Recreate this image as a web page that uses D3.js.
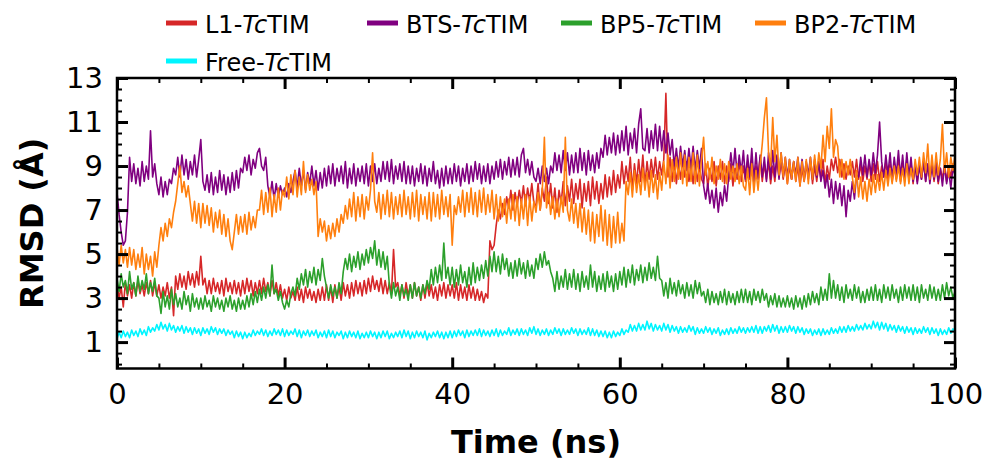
<!DOCTYPE html>
<meta charset="utf-8">
<head>
<style>
body { margin: 0; background: #fff; }
text { font-family: "DejaVu Sans", sans-serif; }
.tick line { stroke: #000; }
</style>
</head>
<body>
<div id="my_dataviz"></div>
<script src="https://d3js.org/d3.v7.min.js"></script>
<script>

// RMSD samples every 0.25 ns (one row = 5 ns)
var step = 0.25;

var l1 = [
  3.6,3.0,3.5,2.6,3.7,3.1,3.6,3.0,3.7,3.1,3.8,3.2,3.6,3.1,3.7,3.2,3.8,3.1,3.7,3.1,
  3.6,3.0,3.5,3.1,3.7,3.0,3.5,2.2,4.0,3.4,4.1,3.5,4.0,3.4,4.2,3.6,4.1,3.5,4.2,3.6,
  4.9,3.6,3.9,3.2,3.8,3.2,3.9,3.3,3.7,3.2,3.8,3.1,3.9,3.3,3.7,3.2,3.8,3.2,3.7,3.1,
  3.8,3.2,3.9,3.3,3.8,3.1,3.7,3.2,3.8,3.2,3.9,3.3,3.7,3.1,3.8,3.2,3.7,3.1,3.6,3.0,
  3.4,2.9,3.5,3.0,3.3,2.9,3.5,2.9,3.4,2.8,3.5,3.0,3.4,2.9,3.3,2.8,3.4,2.9,3.5,2.9,
  3.6,2.9,3.5,2.8,3.6,3.0,3.5,2.9,3.7,3.1,3.6,3.0,3.7,3.1,3.8,3.2,3.7,3.1,3.8,3.2,
  3.9,3.3,4.0,3.4,3.8,3.3,3.9,3.2,3.8,3.2,3.7,3.2,5.2,3.5,3.7,3.1,3.6,3.0,3.7,3.1,
  3.6,3.0,3.7,3.1,3.5,2.9,3.6,3.0,3.7,3.1,3.6,3.0,3.5,2.9,3.6,3.1,3.7,3.0,3.6,3.1,
  3.6,3.0,3.7,2.9,3.6,3.0,3.5,2.9,3.6,3.0,3.5,2.9,3.4,2.9,3.3,2.8,3.2,3.0,5.6,5.2,
  5.4,6.3,7.0,6.6,7.3,6.8,7.6,7.1,7.9,7.0,7.8,7.2,7.9,7.3,8.1,7.2,8.0,7.4,8.2,7.3,
  7.2,8.2,7.0,8.0,7.4,8.5,7.3,8.2,7.1,8.0,6.9,7.9,7.3,8.3,7.2,8.1,7.4,8.4,7.3,8.2,
  7.5,8.4,7.1,8.2,7.4,8.3,7.2,8.5,7.5,8.3,7.3,8.2,7.5,8.6,7.6,8.5,7.7,8.8,7.8,8.6,
  8.0,9.2,8.2,9.0,8.3,9.4,7.9,9.1,8.2,9.3,8.3,9.5,8.1,9.2,8.4,9.3,8.5,9.4,8.4,9.2,
  8.6,9.3,12.3,8.5,9.4,8.3,9.2,8.2,9.1,8.4,9.3,8.5,9.2,8.3,9.0,8.2,9.1,8.3,9.0,8.4,
  8.2,9.1,8.0,8.9,8.3,9.2,8.1,9.0,8.4,9.2,8.2,9.0,8.3,9.1,8.1,8.9,8.4,9.2,8.3,9.0,
  8.3,9.2,8.4,9.3,8.2,9.0,8.5,9.4,8.3,9.1,8.4,9.2,8.2,9.0,8.3,9.3,8.5,9.2,8.4,9.1,
  8.2,9.0,8.4,9.2,8.3,9.0,8.1,8.9,8.3,9.1,8.4,9.2,8.2,9.0,8.3,9.1,8.4,9.3,8.2,9.0,
  8.4,9.3,8.8,9.4,8.7,9.3,8.5,9.1,8.4,9.0,8.6,9.2,8.5,9.3,8.4,9.1,8.3,9.0,8.4,9.2,
  8.3,9.1,8.4,9.2,8.3,9.0,8.5,9.2,8.4,9.1,8.3,9.0,8.4,9.2,8.3,9.1,8.5,9.3,8.4,9.1,
  8.2,9.0,8.3,9.1,8.4,9.2,8.3,9.0,8.5,9.1,8.3,9.0,8.2,8.9,8.4,9.1,8.3,9.0,8.5,9.1,
  8.8];

var bts = [
  7.8,6.8,6.0,5.4,5.6,6.9,9.4,8.3,9.1,8.2,8.9,8.1,9.2,8.3,9.0,8.4,10.6,8.5,9.1,8.2,
  7.7,8.5,7.6,8.3,7.7,8.4,8.2,8.9,8.6,9.4,8.5,9.5,8.6,9.3,8.4,9.2,8.6,9.5,8.5,9.3,
  10.2,8.3,7.9,8.6,7.8,8.7,7.7,8.5,7.8,8.8,7.9,8.6,7.7,8.5,7.8,8.7,7.9,8.8,8.0,8.9,
  8.7,9.4,8.8,9.5,8.6,9.3,8.9,9.6,9.8,9.0,8.8,9.4,8.1,7.6,8.3,7.5,8.2,7.6,8.1,7.7,
  8.0,7.6,8.2,7.8,8.3,8.8,8.0,8.9,8.1,8.8,7.9,8.7,8.2,9.0,8.1,8.8,7.9,8.7,8.0,8.9,
  8.1,9.0,8.2,9.1,8.1,8.9,8.3,9.0,8.2,9.2,8.0,8.9,8.2,9.1,8.1,8.9,8.3,9.0,8.2,9.1,
  8.1,9.0,8.3,9.1,8.2,8.9,8.3,9.2,8.4,9.2,8.3,9.3,8.2,9.0,8.4,9.1,8.3,9.2,8.2,9.0,
  8.2,9.0,8.1,8.9,8.3,9.1,8.2,9.0,8.1,8.9,8.3,9.2,8.2,8.8,8.0,8.9,8.1,9.0,8.2,8.9,
  8.2,9.1,8.3,9.0,8.1,8.9,8.3,9.1,8.2,9.0,8.3,9.2,8.4,9.1,8.2,9.0,8.3,9.1,8.2,9.0,
  8.4,9.2,8.5,9.3,8.4,9.2,8.6,9.4,8.5,9.3,8.6,9.4,8.5,9.5,9.8,8.7,9.3,8.6,9.2,8.5,
  8.3,8.9,8.2,9.0,8.3,8.9,8.2,9.0,8.7,9.6,8.8,9.5,8.7,9.7,8.8,9.6,8.6,9.5,8.7,9.6,
  8.7,9.8,8.8,9.6,8.6,9.7,8.8,9.5,8.7,9.6,8.9,9.8,9.4,10.4,9.5,10.3,9.6,10.5,9.5,10.4,
  9.6,10.6,9.7,10.8,9.5,10.5,9.8,10.7,9.6,10.9,11.6,9.8,9.7,10.7,9.6,10.6,9.8,10.9,9.7,10.8,
  9.7,10.6,9.6,10.5,9.5,10.2,9.0,9.8,8.9,9.9,9.0,9.7,8.8,9.8,8.9,9.9,8.8,9.7,8.9,9.8,
  8.1,7.5,8.2,7.3,7.9,7.1,8.0,6.9,7.8,7.2,8.1,7.4,8.6,9.6,8.7,9.8,8.6,9.5,8.7,9.7,
  8.4,9.5,8.5,9.8,8.3,9.6,8.4,9.5,8.5,9.4,8.3,9.6,8.4,9.7,8.5,9.5,8.4,9.6,8.5,9.4,
  8.5,9.3,8.4,9.2,8.6,9.4,8.5,9.3,8.4,9.2,8.6,9.4,8.4,9.3,8.5,9.2,8.3,8.8,8.0,8.6,
  7.6,8.4,7.3,8.3,7.5,8.2,7.2,8.1,6.7,7.9,7.4,8.3,7.5,8.6,8.5,9.4,8.6,9.5,8.5,9.3,
  8.6,9.6,8.7,9.5,11.0,9.2,8.5,9.5,8.6,9.6,8.4,9.4,8.6,9.7,8.5,9.5,8.4,9.6,8.5,9.4,
  8.3,9.1,8.2,9.0,8.4,9.2,8.3,9.1,8.2,9.0,8.4,9.2,8.3,8.9,8.1,9.0,8.2,8.8,8.0,8.9,
  8.6];

var bp5 = [
  3.9,3.3,4.1,3.5,3.8,3.2,4.2,3.4,3.7,3.1,4.0,3.3,3.8,3.4,4.1,3.2,3.7,3.3,3.9,3.1,
  3.0,2.3,3.3,2.6,3.1,2.5,3.4,2.7,3.2,2.6,3.0,2.5,3.3,2.7,3.1,2.4,3.2,2.6,3.0,2.5,
  3.0,2.5,3.1,2.6,2.9,2.4,3.1,2.6,3.0,2.5,2.9,2.4,3.0,2.6,3.1,2.5,2.9,2.4,3.0,2.5,
  2.9,2.5,3.1,2.6,3.2,2.7,3.3,2.8,3.4,2.9,3.5,3.0,3.6,3.1,4.5,3.2,3.4,2.9,3.3,2.8,
  2.5,2.9,2.6,3.2,3.5,3.1,3.9,3.4,4.1,3.6,4.3,3.5,4.2,3.7,4.4,3.6,4.3,3.8,4.8,4.0,
  3.5,3.0,3.6,3.1,3.5,3.0,3.7,3.2,4.2,4.8,4.3,5.0,4.2,4.9,4.4,5.1,4.3,5.0,4.5,5.2,
  4.6,5.3,4.8,5.6,4.5,5.2,4.4,5.1,4.3,4.9,3.6,3.0,3.7,3.1,3.5,2.9,3.6,3.1,3.4,2.9,
  3.6,3.0,3.7,3.1,3.5,3.0,3.6,3.2,3.8,3.4,4.3,3.6,4.4,3.7,4.5,3.8,5.5,3.9,4.4,3.6,
  4.4,3.5,4.3,3.6,4.5,3.7,4.2,3.5,4.4,3.6,4.6,3.7,4.4,3.8,4.5,3.9,4.7,4.0,4.9,4.2,
  5.1,4.2,4.9,4.1,5.0,4.3,4.8,4.0,4.6,3.9,4.7,4.0,4.8,4.1,4.6,3.9,4.7,4.0,4.5,3.9,
  4.8,4.3,5.0,4.4,5.1,4.5,4.7,4.2,3.9,3.3,4.2,3.4,4.0,3.5,4.3,3.4,4.1,3.5,4.3,3.4,
  4.1,3.3,4.2,3.5,4.0,3.4,4.5,3.5,4.2,3.3,4.0,3.4,4.1,3.3,4.2,3.5,4.0,3.3,4.1,3.4,
  4.2,3.6,4.4,3.5,4.3,3.7,4.5,3.6,4.3,3.8,4.5,3.7,4.4,3.8,4.6,3.9,4.4,3.8,4.9,3.9,
  3.8,3.1,3.7,3.0,3.9,3.2,3.7,3.1,3.8,3.2,3.6,3.0,3.7,3.1,3.6,3.0,3.8,3.2,3.7,3.1,
  3.3,2.8,3.4,2.7,3.3,2.8,3.2,2.7,3.3,2.8,3.4,2.7,3.3,2.8,3.2,2.7,3.3,2.8,3.4,2.8,
  3.4,2.8,3.3,2.7,3.4,2.9,3.3,2.8,3.4,2.9,3.2,2.6,3.1,2.7,3.2,2.6,3.1,2.6,3.0,2.6,
  3.1,2.6,3.0,2.5,3.1,2.6,3.0,2.5,3.1,2.6,3.2,2.7,3.3,2.8,3.2,2.7,3.5,2.9,3.4,2.9,
  4.1,3.0,3.8,3.0,3.6,2.9,3.5,2.8,3.6,3.0,3.4,2.9,3.6,3.0,3.5,2.8,3.3,2.8,3.4,2.9,
  3.5,2.9,3.6,2.9,3.4,2.8,3.6,3.0,3.5,2.9,3.6,3.0,3.4,2.8,3.5,2.9,3.6,3.0,3.5,2.9,
  3.6,2.9,3.5,2.8,3.6,3.0,3.4,2.9,3.6,3.0,3.5,2.9,3.4,2.9,3.6,3.0,3.7,3.1,3.5,3.0,
  3.3];

var bp2 = [
  5.3,4.5,5.4,4.6,5.2,4.4,5.3,4.5,5.2,4.3,5.0,4.4,5.3,4.1,5.0,4.3,4.9,4.0,5.1,4.4,
  5.4,6.2,5.6,6.4,5.8,6.6,6.2,6.9,7.4,8.2,9.0,7.8,8.3,7.6,8.1,7.3,6.5,7.4,6.4,7.3,
  6.2,7.3,6.4,7.2,6.3,7.1,6.0,6.9,6.2,7.0,5.9,6.8,5.8,6.6,5.6,5.2,6.0,6.8,5.9,6.7,
  6.0,6.8,5.9,6.9,6.1,6.7,6.2,7.0,7.0,7.9,6.8,7.8,6.9,8.0,6.7,7.7,6.9,8.0,7.0,7.9,
  7.6,8.5,7.5,8.6,7.7,8.8,7.6,8.5,7.7,9.2,7.8,8.6,7.9,8.4,7.7,8.3,5.8,6.6,6.0,6.5,
  5.6,6.3,5.7,6.4,5.8,6.6,6.0,6.8,6.4,7.2,6.6,7.5,6.7,7.8,6.5,7.6,6.7,7.7,6.6,7.6,
  7.0,7.9,9.6,7.4,6.9,7.8,6.6,7.7,6.8,7.9,6.7,7.8,6.6,7.6,6.8,7.7,6.7,7.9,6.8,7.6,
  6.6,7.8,6.7,7.9,6.5,7.7,6.8,7.6,6.6,7.8,6.5,7.8,6.7,7.7,6.6,7.9,6.8,7.6,6.7,7.7,
  5.4,7.2,6.8,7.6,6.9,7.9,6.7,7.8,6.9,8.0,6.8,7.8,6.7,7.9,6.9,8.0,6.8,7.7,6.9,7.9,
  6.6,7.7,6.5,7.6,6.7,7.5,6.4,7.5,6.6,7.7,6.5,7.6,6.3,7.5,6.6,7.7,6.3,7.6,6.5,7.4,
  6.9,7.8,7.0,7.9,10.3,7.1,7.8,6.8,7.6,6.6,7.5,6.7,7.6,6.9,10.3,7.0,6.5,7.5,6.4,7.3,
  6.2,7.3,6.0,7.1,5.9,7.0,5.6,6.9,5.5,6.8,5.8,7.2,5.6,7.0,5.4,6.8,5.3,6.7,5.5,6.9,
  5.5,6.4,5.6,8.3,7.7,8.7,7.6,8.8,7.8,8.6,7.7,8.9,7.9,8.7,7.6,8.8,7.8,8.6,7.5,8.7,
  7.9,9.2,8.2,9.5,8.0,9.3,8.3,9.4,8.4,9.6,8.2,9.5,8.1,9.4,8.3,9.6,8.2,9.5,8.1,9.3,
  10.3,8.6,9.2,8.4,9.4,8.2,9.0,8.4,9.3,8.3,9.1,8.2,9.2,8.4,9.0,8.3,9.1,8.2,9.0,8.1,
  7.9,8.9,7.7,9.1,7.8,8.8,7.9,9.0,10.0,11.2,12.1,9.6,9.0,11.2,9.2,10.4,8.6,9.6,8.5,9.4,
  8.2,9.3,8.4,9.2,8.3,9.4,8.1,9.2,8.3,9.3,8.2,9.4,8.4,9.5,8.6,9.6,8.9,10.4,9.2,10.8,
  9.8,11.6,9.4,10.2,9.9,8.5,9.3,8.4,9.2,8.6,9.3,8.5,7.8,8.8,7.6,8.5,7.5,8.3,7.4,8.4,
  7.7,8.6,7.8,8.6,7.9,8.7,7.9,8.8,8.1,8.9,8.2,9.0,8.3,9.0,8.2,8.9,8.1,9.1,8.2,8.9,
  8.4,9.3,8.6,9.4,8.5,9.6,8.7,10.0,8.4,9.5,8.5,9.6,8.6,9.3,10.9,8.7,9.6,8.5,9.4,8.8,
  9.5];

var free = [
  1.15,1.45,1.2,1.5,1.25,1.45,1.2,1.55,1.3,1.5,1.25,1.6,1.35,1.55,1.3,1.7,1.45,1.65,1.5,1.8,
  1.55,1.9,1.6,1.8,1.5,1.85,1.55,1.75,1.45,1.7,1.5,1.75,1.4,1.7,1.45,1.65,1.35,1.65,1.4,1.6,
  1.3,1.65,1.4,1.6,1.35,1.7,1.45,1.65,1.35,1.6,1.4,1.6,1.3,1.55,1.35,1.5,1.2,1.5,1.25,1.45,
  1.15,1.45,1.2,1.4,1.25,1.55,1.3,1.5,1.35,1.6,1.3,1.55,1.25,1.5,1.3,1.6,1.35,1.55,1.3,1.6,
  1.25,1.55,1.3,1.5,1.35,1.6,1.25,1.55,1.2,1.5,1.3,1.55,1.25,1.5,1.3,1.55,1.2,1.45,1.25,1.5,
  1.2,1.55,1.25,1.5,1.2,1.45,1.3,1.5,1.15,1.45,1.2,1.5,1.25,1.45,1.2,1.5,1.15,1.4,1.2,1.45,
  1.2,1.5,1.25,1.45,1.15,1.45,1.2,1.5,1.25,1.5,1.15,1.4,1.2,1.45,1.25,1.5,1.2,1.55,1.25,1.5,
  1.15,1.45,1.2,1.5,1.25,1.45,1.2,1.5,1.1,1.4,1.2,1.45,1.25,1.5,1.2,1.45,1.15,1.45,1.2,1.5,
  1.2,1.5,1.25,1.55,1.3,1.5,1.2,1.55,1.25,1.5,1.3,1.55,1.3,1.6,1.25,1.55,1.3,1.5,1.25,1.55,
  1.3,1.6,1.25,1.55,1.3,1.5,1.35,1.65,1.3,1.55,1.35,1.6,1.3,1.6,1.35,1.55,1.3,1.65,1.4,1.7,
  1.35,1.6,1.3,1.55,1.35,1.6,1.3,1.55,1.35,1.65,1.4,1.6,1.3,1.6,1.35,1.55,1.35,1.65,1.4,1.6,
  1.3,1.6,1.35,1.55,1.35,1.65,1.3,1.6,1.3,1.55,1.25,1.5,1.25,1.5,1.2,1.45,1.2,1.5,1.25,1.45,
  1.3,1.6,1.35,1.55,1.45,1.8,1.5,1.75,1.5,1.85,1.55,1.8,1.55,1.95,1.6,1.85,1.5,1.8,1.55,1.75,
  1.5,1.85,1.55,1.8,1.45,1.75,1.5,1.7,1.4,1.7,1.45,1.65,1.45,1.75,1.5,1.7,1.35,1.65,1.4,1.6,
  1.4,1.7,1.45,1.65,1.35,1.6,1.4,1.65,1.3,1.55,1.35,1.6,1.35,1.65,1.4,1.6,1.4,1.7,1.45,1.65,
  1.4,1.65,1.45,1.7,1.45,1.75,1.4,1.7,1.4,1.7,1.5,1.75,1.45,1.8,1.5,1.75,1.4,1.7,1.45,1.7,
  1.45,1.75,1.5,1.7,1.4,1.7,1.45,1.65,1.35,1.6,1.4,1.6,1.3,1.55,1.35,1.6,1.3,1.6,1.35,1.55,
  1.35,1.65,1.4,1.6,1.4,1.7,1.45,1.7,1.45,1.75,1.5,1.7,1.5,1.8,1.55,1.75,1.55,1.85,1.6,1.8,
  1.6,1.95,1.65,1.9,1.55,1.9,1.6,1.85,1.5,1.8,1.55,1.75,1.45,1.75,1.5,1.7,1.4,1.7,1.45,1.65,
  1.35,1.65,1.4,1.6,1.4,1.7,1.45,1.65,1.35,1.65,1.4,1.6,1.3,1.6,1.35,1.55,1.35,1.65,1.4,1.6,
  1.5];

var seriesNames = ["L1-", "BTS-", "BP5-", "BP2-", "Free-"];
var seriesColors = ["#d62728", "#800080", "#2ca02c", "#ff7f0e", "#00f5ff"];
var seriesValues = [l1, bts, bp5, bp2, free];

var xMajor = [0, 20, 40, 60, 80, 100];
var yMajor = [1, 3, 5, 7, 9, 11, 13];

// plot box
var margin = {top: 78, right: 33, bottom: 90.5, left: 117},
    width = 988 - margin.left - margin.right,
    height = 459 - margin.top - margin.bottom;

var svg = d3.select("#my_dataviz")
  .append("svg")
    .attr("width", 988)
    .attr("height", 459)
  .append("g")
    .attr("transform", "translate(" + margin.left + "," + margin.top + ")");

var x = d3.scaleLinear().domain([0, 100]).range([0, width]);
var y = d3.scaleLinear().domain([-0.2, 13]).range([height, 0]);

svg.append("defs").append("clipPath").attr("id", "clip")
  .append("rect").attr("width", width).attr("height", height);

// traces
var line = d3.line()
  .x(function(d, i) { return x(i * step); })
  .y(function(d) { return y(d); });

svg.append("g").attr("clip-path", "url(#clip)")
  .selectAll("path")
  .data(seriesValues)
  .enter()
  .append("path")
    .attr("d", line)
    .attr("fill", "none")
    .attr("stroke", function(d, i) { return seriesColors[i]; })
    .attr("stroke-width", 1.6)
    .attr("stroke-linejoin", "round");

// minor ticks, pointing inwards on all sides
var xMinor = d3.range(0, 101, 5).filter(function(d) { return d % 20 != 0; });
var yMinor = d3.range(0, 13.01, 0.5).filter(function(d) { return yMajor.indexOf(d) < 0; });

function styleAxis(g, w) {
  g.select(".domain").remove();
  g.selectAll(".tick line").attr("stroke-width", w);
  g.selectAll("text").attr("font-size", 29).attr("fill", "#000");
}

svg.append("g").attr("transform", "translate(0," + height + ")")
  .call(d3.axisBottom(x).tickValues(xMinor).tickSize(-5).tickFormat(""))
  .call(styleAxis, 2);
svg.append("g")
  .call(d3.axisTop(x).tickValues(xMinor).tickSize(-5).tickFormat(""))
  .call(styleAxis, 2);
svg.append("g")
  .call(d3.axisLeft(y).tickValues(yMinor).tickSize(-5).tickFormat(""))
  .call(styleAxis, 2);
svg.append("g").attr("transform", "translate(" + width + ",0)")
  .call(d3.axisRight(y).tickValues(yMinor).tickSize(-5).tickFormat(""))
  .call(styleAxis, 2);

// major ticks with labels
svg.append("g").attr("transform", "translate(0," + height + ")")
  .call(d3.axisBottom(x).tickValues(xMajor).tickSize(-11).tickPadding(15))
  .call(styleAxis, 3);
svg.append("g")
  .call(d3.axisTop(x).tickValues(xMajor).tickSize(-11).tickFormat(""))
  .call(styleAxis, 3);
svg.append("g")
  .call(d3.axisLeft(y).tickValues(yMajor).tickSize(-11).tickPadding(14))
  .call(styleAxis, 3);
svg.append("g").attr("transform", "translate(" + width + ",0)")
  .call(d3.axisRight(y).tickValues(yMajor).tickSize(-11).tickFormat(""))
  .call(styleAxis, 3);

// frame
svg.append("rect")
  .attr("width", width)
  .attr("height", height)
  .attr("fill", "none")
  .attr("stroke", "#000")
  .attr("stroke-width", 2.5);

// axis titles
svg.append("text")
  .attr("x", width / 2)
  .attr("y", height + 84)
  .attr("text-anchor", "middle")
  .attr("font-size", 32)
  .attr("font-weight", "bold")
  .text("Time (ns)");

svg.append("text")
  .attr("transform", "rotate(-90)")
  .attr("x", -height / 2)
  .attr("y", -74)
  .attr("text-anchor", "middle")
  .attr("font-size", 32)
  .attr("font-weight", "bold")
  .text("RMSD (\u00c5)");

// legend
var legendPos = [[166, 23], [367, 23], [561, 23], [755, 23], [166, 61]];
var root = d3.select("#my_dataviz svg");
var legend = root.selectAll(".legend")
  .data(seriesNames)
  .enter()
  .append("g")
    .attr("class", "legend")
    .attr("transform", function(d, i) { return "translate(" + legendPos[i][0] + "," + legendPos[i][1] + ")"; });

legend.append("line")
  .attr("x1", 0).attr("x2", 31)
  .attr("stroke", function(d, i) { return seriesColors[i]; })
  .attr("stroke-width", 5);

var lt = legend.append("text")
  .attr("x", 39)
  .attr("y", 10)
  .attr("font-size", 24)
  .attr("fill", "#000");
lt.append("tspan").text(function(d) { return d; });
lt.append("tspan").attr("font-style", "italic").text("Tc");
lt.append("tspan").text("TIM");

</script>
</body>
